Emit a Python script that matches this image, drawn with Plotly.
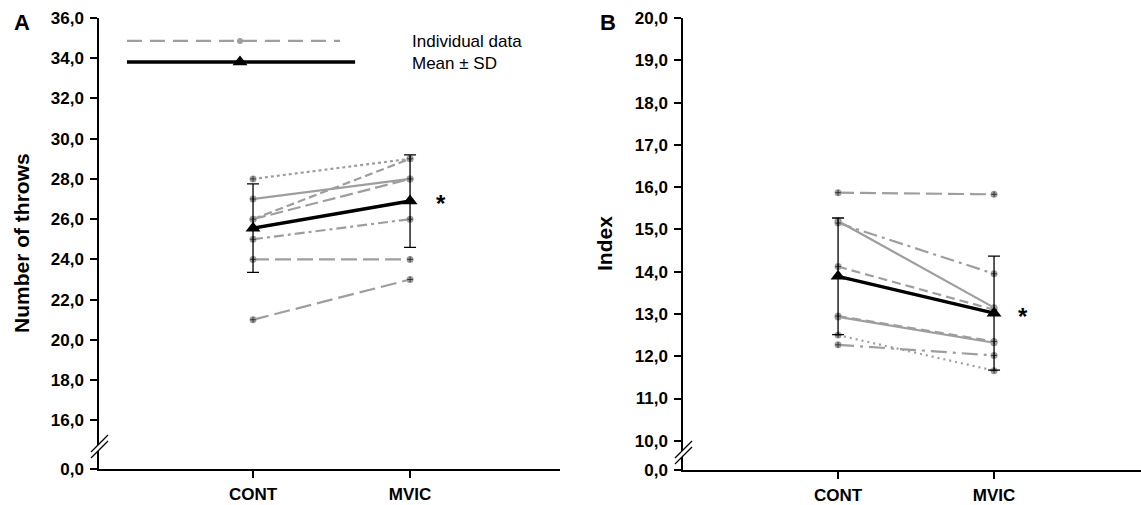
import plotly.graph_objects as go

# ---------------- data ----------------
conditions = ["CONT", "MVIC"]

throws_cont = [28, 27, 26, 26, 25, 24, 21]
throws_mvic = [29, 28, 29, 28, 26, 24, 23]
throws_mean = [25.55, 26.9]
throws_sd = [2.2, 2.3]

index_cont = [15.87, 15.2, 15.15, 14.12, 12.93, 12.95, 12.5, 12.27]
index_mvic = [15.83, 13.15, 13.95, 13.1, 12.32, 12.35, 11.66, 12.02]
index_mean = [13.89, 13.02]
index_sd = [1.38, 1.35]

ticks_A = [16, 18, 20, 22, 24, 26, 28, 30, 32, 34, 36]
ticks_B = [10, 11, 12, 13, 14, 15, 16, 17, 18, 19, 20]

# ---------------- styles ----------------
dash_A = ["dot", "solid", "8px,4px", "13px,5px", "10px,4px,3px,4px", "16px,6px", "16px,6px"]
dash_B = ["16px,6px", "solid", "14px,5px,3px,5px", "9px,5px", "solid", "9px,5px", "2px,4px", "16px,6px,3px,6px"]

W, H = 1141, 505
GRAY = "#9e9e9e"
FONT = "Liberation Sans"

xpos = list(range(1, len(conditions) + 1))


def px(x):
    return x / W


def py(y):
    return 1 - y / H


fig = go.Figure()


def add_panel(cont, mvic, dashes, mean, sd, xa, ya):
    for c, m, d in zip(cont, mvic, dashes):
        fig.add_trace(go.Scatter(
            x=xpos, y=[c, m], mode="lines+markers", xaxis=xa, yaxis=ya,
            line=dict(color=GRAY, width=2.2, dash=d),
            marker=dict(symbol="circle", size=7, color=GRAY), showlegend=False))
        fig.add_trace(go.Scatter(
            x=xpos, y=[c, m], mode="markers", xaxis=xa, yaxis=ya,
            marker=dict(symbol="cross-thin", size=4, line=dict(color="#333333", width=1)),
            showlegend=False))
    fig.add_trace(go.Scatter(
        x=xpos, y=mean, mode="lines+markers", xaxis=xa, yaxis=ya,
        line=dict(color="black", width=3.5),
        marker=dict(symbol="triangle-up", size=13, color="black"),
        error_y=dict(type="data", array=sd, visible=True, color="black", thickness=1.3, width=6),
        showlegend=False))


add_panel(throws_cont, throws_mvic, dash_A, throws_mean, throws_sd, "x", "y")
add_panel(index_cont, index_mvic, dash_B, index_mean, index_sd, "x2", "y2")

# legend samples (panel A)
fig.add_trace(go.Scatter(x=[0.197, 1.554], y=[34.86, 34.86], mode="lines", xaxis="x", yaxis="y",
                         line=dict(color=GRAY, width=2.2, dash="15px,8px"), showlegend=False))
fig.add_trace(go.Scatter(x=[0.917], y=[34.86], mode="markers", xaxis="x", yaxis="y",
                         marker=dict(symbol="circle", size=6, color=GRAY), showlegend=False))
fig.add_trace(go.Scatter(x=[0.197, 1.65], y=[33.81, 33.81], mode="lines", xaxis="x", yaxis="y",
                         line=dict(color="black", width=3.5), showlegend=False))
fig.add_trace(go.Scatter(x=[0.917], y=[33.81], mode="markers", xaxis="x", yaxis="y",
                         marker=dict(symbol="triangle-up", size=13, color="black"), showlegend=False))

y0A = 13.58
y0B = 9.31

axis_common = dict(showline=True, linecolor="black", linewidth=1.5, ticks="outside",
                   ticklen=7, tickwidth=1.5, tickcolor="black", showgrid=False, zeroline=False,
                   automargin=False)
yfont = dict(family=FONT, size=17, color="black", weight="bold")
xfont = dict(family=FONT, size=17, color="black", weight="bold")

fig.update_layout(
    template="none",
    width=W, height=H, autosize=False,
    margin=dict(l=0, r=0, t=0, b=0, pad=0),
    paper_bgcolor="white", plot_bgcolor="white",
    xaxis=dict(domain=[px(99), px(560)], range=[0.019, 2.955], anchor="y",
               tickvals=xpos, ticktext=conditions, ticklabelstandoff=2,
               tickfont=xfont, **axis_common),
    yaxis=dict(domain=[py(469), py(18)], range=[y0A, 36], anchor="x",
               tickvals=[y0A] + ticks_A,
               ticktext=["0,0"] + [f"{t:.1f}".replace(".", ",") for t in ticks_A],
               ticklabelstandoff=3, tickfont=yfont, **axis_common),
    xaxis2=dict(domain=[px(683), 1.0], range=[0.006, 2.942], anchor="y2",
                tickvals=xpos, ticktext=conditions, ticklabelstandoff=2,
                tickfont=xfont, **axis_common),
    yaxis2=dict(domain=[py(470), py(18)], range=[y0B, 20], anchor="x2",
                tickvals=[y0B] + ticks_B,
                ticktext=["0,0"] + [f"{t:.1f}".replace(".", ",") for t in ticks_B],
                ticklabelstandoff=3, tickfont=yfont, **axis_common),
)

annotations = [
    dict(text="<b>A</b>", x=px(22), y=py(22), font=dict(size=22)),
    dict(text="<b>B</b>", x=px(608), y=py(22), font=dict(size=22)),
    dict(text="<b>Number of throws</b>", x=px(21), y=py(243), textangle=-90, font=dict(size=21)),
    dict(text="<b>Index</b>", x=px(604), y=py(244), textangle=-90, font=dict(size=21)),
    dict(text="Individual data", x=px(410), y=py(42), xanchor="left", font=dict(size=17)),
    dict(text="Mean ± SD", x=px(410), y=py(63), xanchor="left", font=dict(size=17)),
    dict(text="<b>*</b>", x=px(441), y=py(203), font=dict(size=24)),
    dict(text="<b>*</b>", x=px(1023), y=py(316), font=dict(size=24)),
]
for a in annotations:
    a.update(xref="paper", yref="paper", showarrow=False)
    a.setdefault("xanchor", "center")
    a["yanchor"] = "middle"
    a["font"].update(family=FONT, color="black")
fig.update_layout(annotations=annotations)


def brk(xa, ya, xb, yb, gap):
    # white gap + two parallel slashes
    path = (f"M {px(xa)},{py(ya)} L {px(xb)},{py(yb)} "
            f"L {px(xb)},{py(yb + gap)} L {px(xa)},{py(ya + gap)} Z")
    shapes = [dict(type="path", path=path, xref="paper", yref="paper",
                   fillcolor="white", line=dict(width=0), layer="above")]
    for off in (0, gap):
        shapes.append(dict(type="line", xref="paper", yref="paper",
                           x0=px(xa), y0=py(ya + off), x1=px(xb), y1=py(yb + off),
                           line=dict(color="black", width=1.3), layer="above"))
    return shapes


shapes = brk(91, 452, 108, 435, 6) + brk(675, 458, 692, 441, 6)
fig.update_layout(shapes=shapes)

fig.write_html("out.html", config={"displayModeBar": False},
               post_script="document.body.style.margin='0';document.documentElement.style.overflow='hidden';")
